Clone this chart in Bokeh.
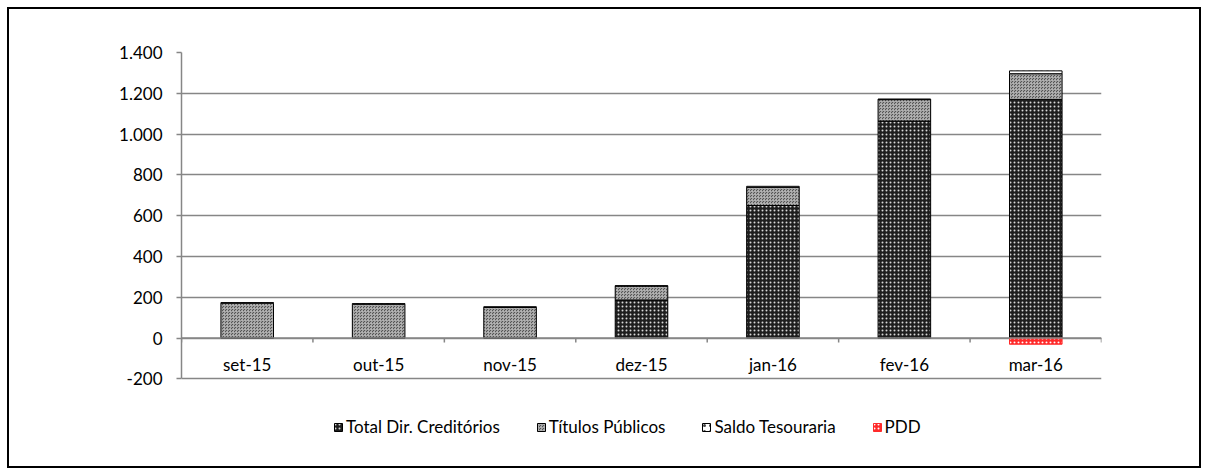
from bokeh.plotting import figure
from bokeh.models import (ColumnDataSource, FactorRange, Range1d, FixedTicker,
                          Legend, LegendItem, Span, CDSView, IndexFilter)
from bokeh.core.properties import value
from bokeh.transform import dodge
from bokeh.embed import file_html
from bokeh.resources import INLINE

cats = ["set-15", "out-15", "nov-15", "dez-15", "jan-16", "fev-16", "mar-16"]
total_dir = [0, 0, 0, 187, 650, 1064, 1170]
titulos = [171, 166, 150, 68, 89, 105, 126]
saldo = [3, 3, 4, 2, 5, 3, 14]
pdd = [0, 0, 0, 0, 0, 0, -30]
y_ticks = [-200, 0, 200, 400, 600, 800, 1000, 1200, 1400]
y_labels = ["-200", "0", "200", "400", "600", "800", "1.000", "1.200", "1.400"]

FONT = "Lato"
FS = "17px"
GRID = "#868686"

b1 = [0] * len(cats)
t1 = [a for a in total_dir]
t2 = [a + b for a, b in zip(t1, titulos)]
t3 = [a + b for a, b in zip(t2, saldo)]

src = ColumnDataSource(dict(cats=cats, b1=b1, t1=t1, t2=t2, t3=t3, pdd=pdd,
                            zero=[0] * len(cats)))

# frame: y axis extends to -200; extra room below the axis hosts the legend
p = figure(x_range=FactorRange(*cats), y_range=Range1d(-600, 1400),
           width=1208, height=475, output_backend="svg", toolbar_location=None,
           min_border_left=181, min_border_right=107, min_border_top=52,
           min_border_bottom=15)
p.background_fill_color = "white"
p.border_fill_color = None
p.outline_line_color = None
p.styles = {"outline": "2px solid black", "outline-offset": "-9px",
            "background-color": "white"}

p.xgrid.grid_line_color = None
p.ygrid.ticker = FixedTicker(ticks=y_ticks)
p.ygrid.grid_line_color = GRID
p.ygrid.grid_line_width = 1.5

W = 0.4
r1 = p.vbar(x="cats", bottom="b1", top="t1", width=W, source=src,
            fill_color="#1e1e1e", line_color="black", line_width=1,
            hatch_pattern="dot", hatch_color="#d8d8d8", hatch_scale=4, hatch_weight=1.2)
r2 = p.vbar(x="cats", bottom="t1", top="t2", width=W, source=src,
            fill_color="#555555", line_color="black", line_width=1,
            hatch_pattern="criss_cross", hatch_color="#b4b4b4", hatch_scale=3, hatch_weight=0.8)
r3 = p.vbar(x="cats", bottom="t2", top="t3", width=W, source=src,
            fill_color="white", line_color="black", line_width=1,
            hatch_pattern="dot", hatch_color="#444444", hatch_scale=6, hatch_weight=1)
pdd_view = CDSView(filter=IndexFilter([i for i, v in enumerate(pdd) if v != 0]))
r4 = p.vbar(x="cats", bottom="zero", top="pdd", width=W, source=src, view=pdd_view,
            fill_color="#ff2a2a", line_color="#ff2a2a", line_width=1,
            hatch_pattern="dot", hatch_color="white", hatch_scale=4, hatch_weight=1.5)

# zero axis line
p.add_layout(Span(location=0, dimension="width", line_color=GRID, line_width=1.5))

# category boundary ticks on the zero axis
p.segment(x0=dodge("cats", 0.5, range=p.x_range), x1=dodge("cats", 0.5, range=p.x_range),
          y0=0, y1=-22, source=src, line_color=GRID, line_width=1.5)
p.segment(x0=dodge("cats", -0.5, range=p.x_range), x1=dodge("cats", -0.5, range=p.x_range),
          y0=0, y1=-22, source=ColumnDataSource(dict(cats=cats[:1])),
          line_color=GRID, line_width=1.5)

# category labels below the zero axis
p.text(x="cats", y="zero", text="cats", source=src, y_offset=16,
       text_align="center", text_baseline="top",
       text_font=value(FONT), text_font_size=FS, text_color="black")

p.xaxis.visible = False

p.yaxis.bounds = (-200, 1400)
p.yaxis.ticker = FixedTicker(ticks=y_ticks)
p.yaxis.major_label_overrides = {t: l for t, l in zip(y_ticks, y_labels)}
p.yaxis.axis_line_color = GRID
p.yaxis.axis_line_width = 1.5
p.yaxis.major_tick_line_color = GRID
p.yaxis.major_tick_line_width = 1.5
p.yaxis.major_tick_out = 5
p.yaxis.major_tick_in = 0
p.yaxis.minor_tick_line_color = None
p.yaxis.major_label_standoff = 14
p.yaxis.major_label_text_font = FONT
p.yaxis.major_label_text_font_size = FS
p.yaxis.major_label_text_color = "black"

legend = Legend(items=[
    LegendItem(label="Total Dir. Creditórios", renderers=[r1]),
    LegendItem(label="Títulos Públicos", renderers=[r2]),
    LegendItem(label="Saldo Tesouraria", renderers=[r3]),
    LegendItem(label="PDD", renderers=[r4]),
], orientation="horizontal", location=(152, 23))
legend.glyph_width = 10
legend.glyph_height = 10
legend.label_standoff = 3
legend.spacing = 36
legend.padding = 0
legend.margin = 0
legend.border_line_color = None
legend.background_fill_alpha = 0
legend.label_text_font = FONT
legend.label_text_font_size = FS
legend.label_text_color = "black"
p.add_layout(legend)

open("out.html", "w").write(file_html(p, INLINE))
